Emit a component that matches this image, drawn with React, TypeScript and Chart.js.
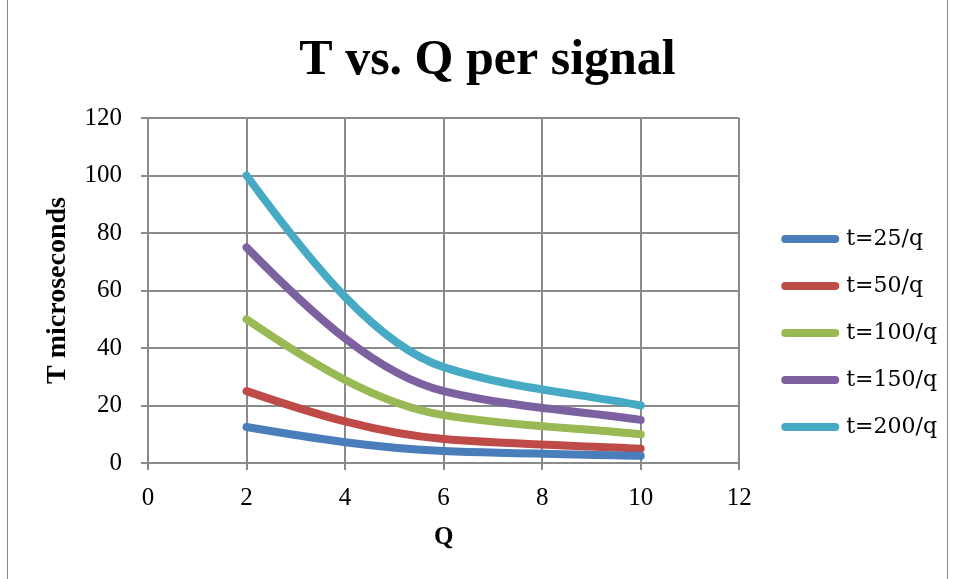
import { useEffect, useRef } from 'react';
import { Chart, registerables } from 'chart.js';

Chart.register(...registerables);

// Q positions of the measured points
const qValues = [2, 6, 10];

// T (microseconds) for each signal rate
const t25 = [12.5, 4.17, 2.5];
const t50 = [25, 8.33, 5];
const t100 = [50, 16.67, 10];
const t150 = [75, 25, 15];
const t200 = [100, 33.33, 20];

const seriesLabels = ['t=25/q', 't=50/q', 't=100/q', 't=150/q', 't=200/q'];
const seriesValues = [t25, t50, t100, t150, t200];
const seriesColors = ['#4A7EBB', '#BE4B48', '#98B954', '#7D60A0', '#46AAC5'];

const chartTitle = 'T vs. Q per signal';
const xTitle = 'Q';
const yTitle = 'T microseconds';
const xRange = { min: 0, max: 12, step: 2 };
const yRange = { min: 0, max: 120, step: 20 };

const GRID = '#8a8a8a';
const LINE_WIDTH = 8;
const SERIF = "'Liberation Serif', 'Times New Roman', serif";
const LEGEND_FONT = "'DejaVu Serif', serif";

// Shape-preserving cubic (harmonic-mean tangents) applied to the line's bezier control points.
const smoothCurve = {
  id: 'smoothCurve',
  beforeDatasetDraw(chart: any, args: any) {
    const meta = args.meta;
    const line = meta.dataset;
    if (!line) return;
    line.updateControlPoints(chart.chartArea, meta.iScale.axis);
    const pts = meta.data;
    const n = pts.length;
    if (n < 2) return;
    const h: number[] = [];
    const d: number[] = [];
    for (let i = 0; i < n - 1; i++) {
      h[i] = pts[i + 1].x - pts[i].x;
      d[i] = (pts[i + 1].y - pts[i].y) / h[i];
    }
    const m: number[] = new Array(n).fill(0);
    if (n === 2) {
      m[0] = d[0];
      m[1] = d[0];
    } else {
      for (let i = 1; i < n - 1; i++) {
        if (d[i - 1] * d[i] <= 0) {
          m[i] = 0;
        } else {
          const w1 = 2 * h[i] + h[i - 1];
          const w2 = h[i] + 2 * h[i - 1];
          m[i] = (w1 + w2) / (w1 / d[i - 1] + w2 / d[i]);
        }
      }
      const s0 = ((2 * h[0] + h[1]) * d[0] - h[0] * d[1]) / (h[0] + h[1]);
      m[0] = Math.sign(s0) === Math.sign(d[0]) ? s0 : d[0];
      const k = n - 2;
      const sn = ((2 * h[k] + h[k - 1]) * d[k] - h[k] * d[k - 1]) / (h[k] + h[k - 1]);
      m[n - 1] = Math.sign(sn) === Math.sign(d[k]) ? sn : d[k];
    }
    for (let i = 0; i < n - 1; i++) {
      const third = h[i] / 3;
      pts[i].cp2x = pts[i].x + third;
      pts[i].cp2y = pts[i].y + m[i] * third;
      pts[i + 1].cp1x = pts[i + 1].x - third;
      pts[i + 1].cp1y = pts[i + 1].y - m[i + 1] * third;
    }
    line._path = undefined;
  },
};

export default function App() {
  const canvasRef = useRef<HTMLCanvasElement | null>(null);

  useEffect(() => {
    const canvas = canvasRef.current;
    if (!canvas) return;

    const datasets = seriesLabels.map((label, s) => ({
      label,
      data: qValues.map((q, i) => ({ x: q, y: seriesValues[s][i] })),
      borderColor: seriesColors[s],
      backgroundColor: seriesColors[s],
      borderWidth: LINE_WIDTH,
      borderCapStyle: 'round' as const,
      borderJoinStyle: 'round' as const,
      pointRadius: 0,
      pointHoverRadius: 0,
      tension: 0.4,
      fill: false,
      clip: 10,
    }));

    const defaultLabels = (Chart.defaults as any).plugins.legend.labels.generateLabels;

    const chart = new Chart(canvas, {
      type: 'line',
      data: { datasets },
      plugins: [smoothCurve],
      options: {
        responsive: false,
        animation: false,
        color: '#000',
        layout: { padding: { left: 20, right: 0, top: 0, bottom: 0 } },
        plugins: {
          title: {
            display: true,
            text: chartTitle,
            color: '#000',
            font: { family: SERIF, size: 50, weight: 'bold' },
            padding: { top: 31, bottom: 27 },
          },
          legend: {
            display: true,
            position: 'right',
            align: 'end',
            fullSize: false,
            maxWidth: 400,
            labels: {
              usePointStyle: true,
              pointStyle: 'line',
              pointStyleWidth: 50,
              padding: 25,
              color: '#000',
              font: { family: LEGEND_FONT, size: 22 },
              generateLabels: (c: any) =>
                defaultLabels(c).map((item: any, i: number) => ({
                  ...item,
                  strokeStyle: seriesColors[i],
                  lineWidth: LINE_WIDTH,
                  lineCap: 'round',
                })),
            },
          },
          tooltip: { enabled: false },
        },
        scales: {
          x: {
            type: 'linear',
            min: xRange.min,
            max: xRange.max,
            ticks: {
              stepSize: xRange.step,
              color: '#000',
              padding: 13,
              font: { family: SERIF, size: 25 },
            },
            grid: { color: GRID, lineWidth: 2, tickLength: 7, tickColor: GRID },
            border: { color: GRID, width: 2 },
            title: {
              display: true,
              text: xTitle,
              color: '#000',
              font: { family: SERIF, size: 25, weight: 'bold' },
              padding: { top: 0, bottom: 26 },
            },
            afterFit: (scale: any) => {
              scale.height = 116;
            },
          },
          y: {
            type: 'linear',
            min: yRange.min,
            max: yRange.max,
            ticks: {
              stepSize: yRange.step,
              color: '#000',
              padding: 19,
              font: { family: SERIF, size: 25 },
            },
            grid: { color: GRID, lineWidth: 2, tickLength: 7, tickColor: GRID },
            border: { color: GRID, width: 2 },
            title: {
              display: true,
              text: yTitle,
              color: '#000',
              font: { family: SERIF, size: 28, weight: 'bold' },
              padding: { top: 13, bottom: 0 },
            },
            afterFit: (scale: any) => {
              scale.width = 120;
            },
          },
          legendGap: {
            type: 'linear',
            position: 'right',
            display: true,
            grid: { display: false, drawTicks: false },
            border: { display: false },
            ticks: { display: false },
            afterFit: (scale: any) => {
              scale.width = 21;
            },
          },
        },
      },
    } as any);

    return () => chart.destroy();
  }, []);

  return (
    <div
      style={{
        position: 'absolute',
        left: 7,
        top: 0,
        width: 941,
        height: 579,
        boxSizing: 'border-box',
        borderLeft: '1px solid #8a8a8a',
        borderRight: '1px solid #8a8a8a',
        background: '#fff',
      }}
    >
      <canvas ref={canvasRef} width={939} height={579} style={{ display: 'block' }} />
    </div>
  );
}
